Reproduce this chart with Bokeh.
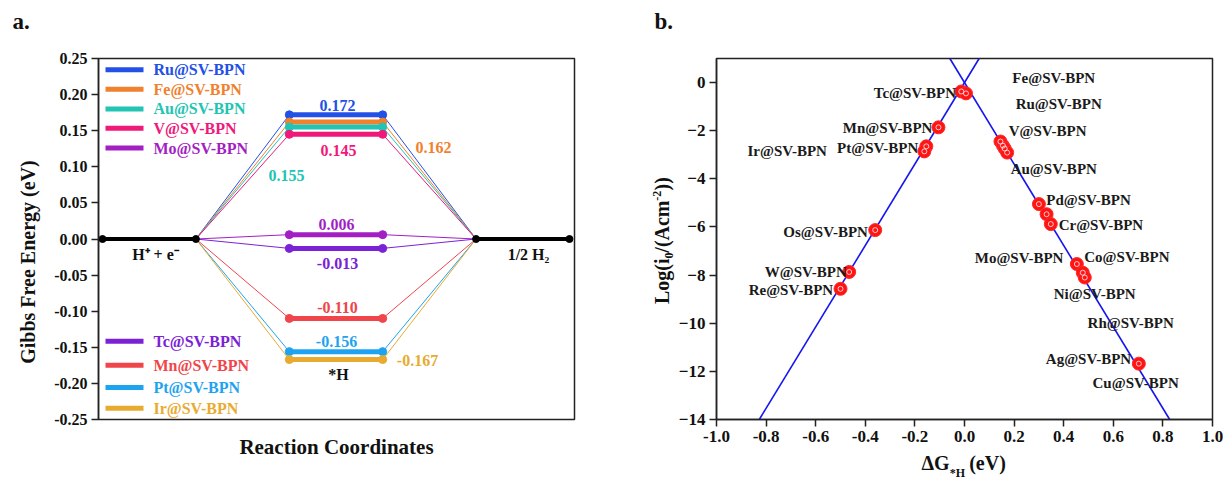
import math
from bokeh.plotting import figure
from bokeh.models import (FixedTicker, NumeralTickFormatter, Range1d, LinearAxis, Title)
from bokeh.layouts import row
from bokeh.embed import file_html
from bokeh.resources import INLINE
from bokeh.core.properties import value

FONT = "Liberation Serif"

# ---------------- data: panel a (free-energy diagram) ----------------
catalysts_a = ["Ru@SV-BPN", "Fe@SV-BPN", "Au@SV-BPN", "V@SV-BPN", "Mo@SV-BPN",
               "Tc@SV-BPN", "Mn@SV-BPN", "Pt@SV-BPN", "Ir@SV-BPN"]
energies_a = [0.172, 0.162, 0.155, 0.145, 0.006, -0.013, -0.110, -0.156, -0.167]
colors_a = ["#2350e6", "#f0812e", "#22c4b4", "#f0197a", "#a21fc4",
            "#7b22d6", "#f0454a", "#1ea3f0", "#e8ab30"]
energy_texts = ["0.172", "0.162", "0.155", "0.145", "0.006",
                "-0.013", "-0.110", "-0.156", "-0.167"]
coords_a = [0, 1, 2, 3, 4, 5]
state_names = ["H\u207a + e\u207b", "*H", "1/2 H\u2082"]
yticks_a = [-0.25, -0.20, -0.15, -0.10, -0.05, 0.0, 0.05, 0.10, 0.15, 0.20, 0.25]

# ---------------- data: panel b (volcano plot) ----------------
catalysts_b = ["Tc", "Mo", "Mn", "Pt", "Ir", "Os", "W", "Re", "V", "Au", "Fe", "Ru",
               "Pd", "Rh", "Cr", "Co", "Ni", "Cu", "Ag"]
dG_b = [-0.013, 0.006, -0.105, -0.154, -0.162, -0.360, -0.465, -0.500, 0.145, 0.155,
        0.162, 0.172, 0.300, 0.331, 0.348, 0.453, 0.477, 0.485, 0.703]
logi0_b = [-0.37, -0.45, -1.86, -2.65, -2.86, -6.13, -7.87, -8.57, -2.45, -2.62,
           -2.74, -2.91, -5.05, -5.47, -5.88, -7.54, -7.90, -8.10, -11.68]
names_b = ["Fe@SV-BPN", "Ru@SV-BPN", "V@SV-BPN", "Au@SV-BPN", "Pd@SV-BPN", "Cr@SV-BPN",
           "Mo@SV-BPN", "Co@SV-BPN", "Ni@SV-BPN", "Rh@SV-BPN", "Ag@SV-BPN", "Cu@SV-BPN",
           "Tc@SV-BPN", "Mn@SV-BPN", "Pt@SV-BPN", "Ir@SV-BPN", "Os@SV-BPN", "W@SV-BPN",
           "Re@SV-BPN"]
xticks_b = [-1.0, -0.8, -0.6, -0.4, -0.2, 0.0, 0.2, 0.4, 0.6, 0.8, 1.0]
yticks_b = [0, -2, -4, -6, -8, -10, -12, -14]
kT_ln10 = 0.0591  # eV per decade (volcano slope)

# ---------------- layout (annotation placement, page pixels) ----------------
XA = (-0.043, 5.054); YA = (-0.25, 0.25)
FA = (98, 574, 58, 441)     # frame a: left, right, top, bottom (page px)
XB = (-1.0, 1.0); YB = (-14.0, 1.0)
W1 = 608
FB = (716, 1212, 57, 420)   # frame b (page px)
H = 482


def a_xy(px, py):
    return (XA[0] + (px - FA[0]) / (FA[1] - FA[0]) * (XA[1] - XA[0]),
            YA[1] - (py - FA[2]) / (FA[3] - FA[2]) * (YA[1] - YA[0]))


energy_text_px = [(337, 108), (433, 152), (286, 182), (338, 156), (336, 234),
                  (337, 275), (337, 322), (336, 358), (417, 378)]
state_text_px = [(155, 266), (338, 393), (528, 266)]
legend_rows_px = [70, 90.5, 111.5, 132, 153, 358, 383.5, 407, 429]
name_pos_b = [(0.36, 0.2), (0.38, -0.87), (0.335, -2.0), (0.36, -3.6), (0.50, -4.9),
              (0.55, -5.9), (0.22, -7.3), (0.655, -7.25), (0.525, -8.8), (0.67, -10.0),
              (0.50, -11.5), (0.69, -12.5), (-0.20, -0.44), (-0.31, -1.9), (-0.35, -2.7),
              (-0.715, -2.86), (-0.56, -6.2), (-0.64, -7.87), (-0.70, -8.6)]


def style_axes(p, size):
    p.xgrid.visible = False
    p.ygrid.visible = False
    p.outline_line_color = "#222222"
    p.outline_line_width = 1.5
    for ax in (p.xaxis[0], p.yaxis[0]):
        ax.axis_line_color = "#222222"
        ax.axis_line_width = 1.5
        ax.major_tick_line_color = "#222222"
        ax.major_tick_line_width = 1.5
        ax.major_tick_out = 7
        ax.major_tick_in = 0
        ax.minor_tick_line_color = None
        ax.major_label_text_font = FONT
        ax.major_label_text_font_style = "bold"
        ax.major_label_text_font_size = size
        ax.major_label_text_color = "#111111"
        ax.major_label_standoff = 4


def text_axis(p, side, range_name, ticks, texts, size, standoff, vertical=False):
    """An axis with no line/ticks whose tick labels are used as free text outside the frame."""
    kw = {"y_range_name": range_name} if side in ("left", "right") else {"x_range_name": range_name}
    ax = LinearAxis(ticker=FixedTicker(ticks=ticks),
                    major_label_overrides={t: s for t, s in zip(ticks, texts)}, **kw)
    ax.axis_line_color = None
    ax.major_tick_line_color = None
    ax.minor_tick_line_color = None
    ax.major_tick_out = 0
    ax.major_tick_in = 0
    ax.major_label_standoff = standoff
    ax.major_label_text_font = FONT
    ax.major_label_text_font_style = "bold"
    ax.major_label_text_font_size = size
    ax.major_label_text_color = "#111111"
    if vertical:
        ax.major_label_orientation = "vertical"
    p.add_layout(ax, side)
    return ax


def panel_letter(p, t, offset):
    p.title = Title(text=t + "\n\u00a0", align="left", offset=offset, standoff=0,
                    vertical_align="bottom", text_font=FONT, text_font_style="bold",
                    text_font_size="23px", text_color="#111111", text_line_height=1.0)


# ======================= panel a =======================
p1 = figure(width=W1, height=H, x_range=Range1d(*XA), y_range=Range1d(*YA),
            output_backend="svg", toolbar_location=None,
            min_border_left=FA[0], min_border_right=W1 - FA[1],
            min_border_top=FA[2], min_border_bottom=H - FA[3])
style_axes(p1, "16px")
p1.extra_y_ranges = {"py": Range1d(FA[3], FA[2])}
p1.yaxis.ticker = FixedTicker(ticks=yticks_a)
p1.yaxis.formatter = NumeralTickFormatter(format="0.00")
p1.xaxis.ticker = FixedTicker(ticks=[])
p1.xaxis.axis_line_color = None
p1.xaxis.major_tick_out = 0
p1.xaxis.major_label_standoff = 0
p1.xaxis.axis_label = "Reaction Coordinates"
p1.xaxis.axis_label_standoff = 15
p1.xaxis.axis_label_text_font = FONT
p1.xaxis.axis_label_text_font_style = "bold"
p1.xaxis.axis_label_text_font_size = "21px"
p1.xaxis.axis_label_text_color = "#111111"
text_axis(p1, "left", "py", [274], ["Gibbs Free Energy (eV)"], "20px", 12, vertical=True)
panel_letter(p1, "a.", 12 - FA[0])

# connectors and *H levels
for e, c in zip(energies_a, colors_a):
    p1.line([coords_a[1], coords_a[2]], [0, e], line_color=c, line_width=1)
    p1.line([coords_a[3], coords_a[4]], [e, 0], line_color=c, line_width=1)
for e, c in zip(energies_a, colors_a):
    p1.line([coords_a[2], coords_a[3]], [e, e], line_color=c, line_width=5)
    p1.scatter([coords_a[2], coords_a[3]], [e, e], size=8, color=c)

# reference states
p1.segment(x0=[coords_a[0], coords_a[4]], y0=[0, 0], x1=[coords_a[1], coords_a[5]], y1=[0, 0],
           line_color="black", line_width=4)
p1.scatter([coords_a[0], coords_a[1], coords_a[4], coords_a[5]], [0, 0, 0, 0], size=7, color="black")

# energy value texts
ex, ey = zip(*[a_xy(*q) for q in energy_text_px])
p1.text(x=list(ex), y=list(ey), text=energy_texts, text_color=colors_a,
        text_font=value(FONT), text_font_style="bold", text_font_size="16px",
        text_align="center", text_baseline="middle")
sx, sy = zip(*[a_xy(*q) for q in state_text_px])
p1.text(x=list(sx), y=list(sy), text=state_names, text_color="#111111",
        text_font=value(FONT), text_font_style="bold", text_font_size="16px",
        text_align="center", text_baseline="middle")

# legends (two groups)
lx0 = a_xy(105, 0)[0]; lx1 = a_xy(143, 0)[0]; ltx = a_xy(153, 0)[0]
ly = [a_xy(0, r)[1] for r in legend_rows_px]
p1.segment(x0=[lx0] * len(ly), x1=[lx1] * len(ly), y0=ly, y1=ly, line_color=colors_a, line_width=5)
p1.text(x=[ltx] * len(ly), y=ly, text=catalysts_a, text_color=colors_a,
        text_font=value(FONT), text_font_style="bold", text_font_size="16px",
        text_align="left", text_baseline="middle")

# ======================= panel b =======================
W2 = 1223 - W1
p2 = figure(width=W2, height=H, x_range=Range1d(*XB), y_range=Range1d(*YB),
            output_backend="svg", toolbar_location=None,
            min_border_left=FB[0] - W1, min_border_right=W1 + W2 - FB[1],
            min_border_top=FB[2], min_border_bottom=H - FB[3])
style_axes(p2, "17px")
p2.extra_x_ranges = {"px": Range1d(FB[0], FB[1])}
p2.extra_y_ranges = {"py": Range1d(FB[3], FB[2])}
p2.xaxis.ticker = FixedTicker(ticks=xticks_b)
p2.xaxis.formatter = NumeralTickFormatter(format="0.0")
p2.yaxis.ticker = FixedTicker(ticks=yticks_b)

# x title: ΔG*H (eV), subscript as a second text row
text_axis(p2, "below", "px", [935, 987], ["\u0394G", "(eV)"], "20px", 7)
text_axis(p2, "below", "px", [957], ["*H"], "12px", -11)
# y title: Log(i0/(Acm-2)), rotated, with sub/superscripts
text_axis(p2, "left", "py", [255], ["0"], "12px", 2, vertical=True)
text_axis(p2, "left", "py", [281, 226, 183], ["Log(i", "/(Acm", "))"], "20px", -11, vertical=True)
text_axis(p2, "left", "py", [195], ["-2"], "12px", -13, vertical=True)
panel_letter(p2, "b.", 46 - (FB[0] - W1))

slope = 1.0 / kT_ln10
p2.line([YB[0] / slope, YB[1] / slope], [YB[0], YB[1]], line_color="#1515f0", line_width=1.6)
p2.line([-YB[1] / slope, -YB[0] / slope], [YB[1], YB[0]], line_color="#1515f0", line_width=1.6)

p2.scatter(dG_b, logi0_b, size=13, fill_color="#ff1414", line_color="#ff2a2a", line_width=1)
p2.scatter(dG_b, logi0_b, size=5, fill_color=None, line_color="white", line_alpha=0.75, line_width=1)

nx, ny = zip(*name_pos_b)
p2.text(x=list(nx), y=list(ny), text=names_b, text_color="#1a1a1a",
        text_font=value(FONT), text_font_style="bold", text_font_size="15px",
        text_align="center", text_baseline="middle")

layout = row(p1, p2)
open("out.html", "w").write(file_html(layout, INLINE))
